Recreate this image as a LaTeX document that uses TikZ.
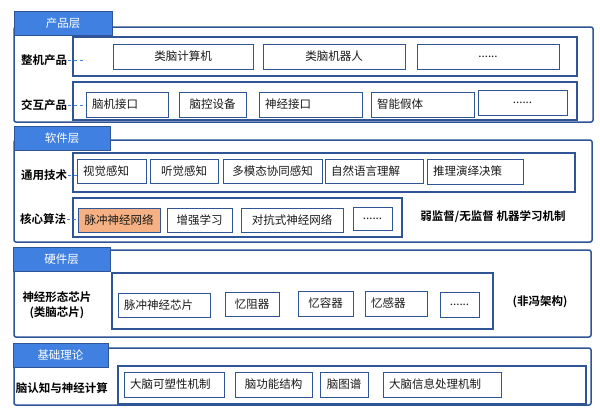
\documentclass[tikz,border=0pt]{standalone}
\usepackage{fontspec}
\setmainfont{Noto Sans CJK SC}[BoldFont={Noto Sans CJK SC Bold}]
\definecolor{frameblue}{RGB}{47,85,151}
\definecolor{tabblue}{RGB}{64,128,224}
\definecolor{itemtext}{RGB}{25,25,25}
\definecolor{orangefill}{RGB}{245,177,131}
\newcommand\mybx[7]{%
 \pgfmathsetmacro\mybxcx{(#3+#5)/2}%
 \pgfmathsetmacro\mybxcy{(#4+#6)/2}%
 \pgfmathsetmacro\mybxw{#5-#3}%
 \pgfmathsetmacro\mybxh{#6-#4}%
 \pgfmathsetmacro\mybxtw{#5-#3-12}%
 \node[#1, minimum width=\mybxw pt, minimum height=\mybxh pt, text width=\mybxtw pt] (#2) at (\mybxcx,\mybxcy) {#7};}
\begin{document}
\begin{tikzpicture}[x=1pt,y=-1pt,
  every node/.style={font=\fontsize{11.5}{13}\selectfont},
  outerframe/.style={draw=frameblue, line width=1.5pt, rounded corners=2pt, inner sep=0pt},
  tabbox/.style={draw=frameblue, fill=tabblue, line width=1pt, text=white, inner xsep=6pt, inner ysep=0pt, align=center},
  rowbox/.style={draw=frameblue, line width=1.1pt, inner xsep=6pt, inner ysep=0pt},
  itemC/.style={draw=frameblue, line width=1pt, fill=white, text=itemtext, inner xsep=6pt, inner ysep=0pt, align=center},
  itemL/.style={itemC, align=left},
  lbl/.style={font=\fontsize{11.5}{14}\selectfont\bfseries, text=black, align=center, inner sep=1pt},
  dashlink/.style={draw=tabblue, dashed, line width=0.8pt}
]
\useasboundingbox (0,0) rectangle (600,416);
\fill[white] (0,0) rectangle (600,416);

% ---------- 产品层 ----------
\mybx{outerframe}{f1}{14}{27}{593}{122}{}
\mybx{tabbox}{t1}{14}{11}{112}{35}{产品层}
\mybx{rowbox}{p1}{73}{37}{577}{76}{}
\mybx{rowbox}{p2}{73}{82}{577}{120}{}
\mybx{itemC}{p1a}{113}{44}{253}{69}{类脑计算机}
\mybx{itemC}{p1b}{263}{44}{405}{69}{类脑机器人}
\mybx{itemC}{p1c}{417}{44}{559}{69}{......}
\mybx{itemL}{p2a}{86}{92}{168}{117}{脑机接口}
\mybx{itemC}{p2b}{179}{92}{246}{117}{脑控设备}
\mybx{itemL}{p2c}{259}{92}{362}{117}{神经接口}
\mybx{itemL}{p2d}{371}{92}{474}{117}{智能假体}
\mybx{itemC}{p2e}{478}{90}{567}{115}{......}
\node[lbl] (l1) at (44,60) {整机产品};
\node[lbl] (l2) at (44,105) {交互产品};
\coordinate (l1end) at (85,60);
\draw[dashlink] (l1.east) -- (l1end);
\draw[dashlink] (l2.east) -- (l2.east -| p2a.west);

% ---------- 软件层 ----------
\mybx{outerframe}{f2}{14}{140}{592}{242}{}
\mybx{tabbox}{t2}{14}{126}{110}{150}{软件层}
\mybx{rowbox}{s1}{73}{153}{575}{192}{}
\mybx{rowbox}{s2}{73}{198}{402}{237}{}
\mybx{itemL}{s1a}{77}{159}{146}{183}{视觉感知}
\mybx{itemC}{s1b}{150}{159}{218}{183}{听觉感知}
\mybx{itemC}{s1c}{223}{159}{322}{183}{多模态协同感知}
\mybx{itemL}{s1d}{325}{159}{423}{183}{自然语言理解}
\mybx{itemL}{s1e}{427}{159}{523}{184}{推理演绎决策}
\node[itemC, fill=orangefill, minimum width=82pt, minimum height=24pt, text width=76pt, inner xsep=3pt] (s2a) at (119,220) {脉冲神经网络};
\mybx{itemC}{s2b}{167}{208}{232}{232}{增强学习}
\mybx{itemC}{s2c}{241}{208}{343}{232}{对抗式神经网络}
\mybx{itemC}{s2d}{353}{207}{392}{230}{......}
\node[lbl] (l3) at (44,175) {通用技术};
\node[lbl] (l4) at (43,219) {核心算法};
\draw[dashlink] (l3.east) -- (l3.east -| s1a.west);
\draw[dashlink] (l4.east) -- (l4.east -| s2a.west);
\node[lbl] (l5) at (493,217) {弱监督/无监督 机器学习机制};

% ---------- 硬件层 ----------
\mybx{outerframe}{f3}{14}{250}{591}{337}{}
\mybx{tabbox}{t3}{13}{247}{110}{271}{硬件层}
\mybx{rowbox}{h1}{112}{273}{493}{329}{}
\mybx{itemL}{h1a}{118}{293}{210}{317}{脉冲神经芯片}
\mybx{itemC}{h1b}{225}{292}{279}{316}{忆阻器}
\mybx{itemC}{h1c}{298}{291}{353}{316}{忆容器}
\mybx{itemL}{h1d}{365}{291}{427}{316}{忆感器}
\mybx{itemC}{h1e}{440}{292}{479}{317}{......}
\node[lbl, font=\fontsize{11.5}{15}\selectfont\bfseries] (l6) at (57,305) {神经形态芯片\\(类脑芯片)};
\node[lbl] (l7) at (540,302) {(非冯架构)};

% ---------- 基础理论 ----------
\mybx{outerframe}{f4}{14}{348}{591}{405}{}
\mybx{tabbox}{t4}{13}{343}{108}{367}{基础理论}
\mybx{rowbox}{b1}{118}{366}{586}{404}{}
\mybx{itemL}{b1a}{124}{372}{224}{397}{大脑可塑性机制}
\mybx{itemC}{b1b}{235}{372}{312}{397}{脑功能结构}
\mybx{itemC}{b1c}{320}{372}{368}{397}{脑图谱}
\mybx{itemL}{b1d}{383}{372}{501}{397}{大脑信息处理机制}
\node[lbl] (l8) at (62,388) {脑认知与神经计算};
\end{tikzpicture}
\end{document}
